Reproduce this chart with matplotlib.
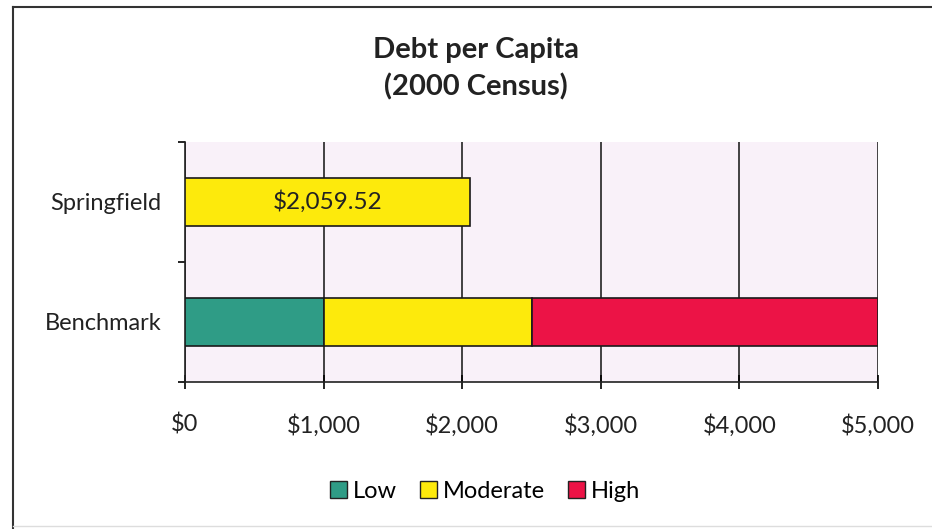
import matplotlib
matplotlib.use("Agg")
import matplotlib.pyplot as plt
from matplotlib.lines import Line2D
from matplotlib.patches import Patch

plt.rcParams['font.family'] = ['Lato', 'DejaVu Sans']

categories = ["Benchmark", "Springfield"]
springfield_value = 2059.52
benchmark_low = 1000
benchmark_moderate = 1500
benchmark_high = 2500
series_names = ["Low", "Moderate", "High"]
series_colors = ["#2f9c86", "#fdea0c", "#ec1346"]
x_ticks = [0, 1000, 2000, 3000, 4000, 5000]
x_tick_labels = ["$0", "$1,000", "$2,000", "$3,000", "$4,000", "$5,000"]

fig = plt.figure(figsize=(9.32, 5.29), dpi=100)
fig.patch.set_facecolor("white")
ax = fig.add_axes([185 / 932, 1 - 382 / 529, 693 / 932, 240 / 529])
ax.set_facecolor("#f9f1f9")

bar_h = 0.4
# Benchmark: stacked ranges
lefts = [0, benchmark_low, benchmark_low + benchmark_moderate]
widths = [benchmark_low, benchmark_moderate, benchmark_high]
for left, width, color in zip(lefts, widths, series_colors):
    ax.barh(0, width, left=left, height=bar_h, color=color,
            edgecolor="#1a1a1a", linewidth=1.2, zorder=3)

# Springfield single value
ax.barh(1, springfield_value, height=bar_h, color=series_colors[1],
        edgecolor="#1a1a1a", linewidth=1.2, zorder=3)
ax.text(springfield_value / 2, 1, f"${springfield_value:,.2f}",
        ha="center", va="center", fontsize=17.5, color="#222222", zorder=4)

ax.set_xlim(0, 5000)
ax.set_ylim(-0.5, 1.5)
ax.set_xticks(x_ticks)
ax.set_xticklabels(x_tick_labels, fontsize=17, color="#222222")
ax.tick_params(axis="x", direction="inout", length=10, width=1.2, pad=18)
ax.set_yticks([0, 1])
ax.set_yticklabels(categories, fontsize=17, color="#222222")
ax.tick_params(axis="y", length=0, pad=17)
ax.set_yticks([-0.5, 0.5, 1.5], minor=True)
ax.tick_params(axis="y", which="minor", length=5, width=1.2, direction="out")

ax.grid(axis="x", color="#111111", linewidth=1.1, zorder=1)
for side in ["top", "right"]:
    ax.spines[side].set_visible(False)
for side in ["left", "bottom"]:
    ax.spines[side].set_color("#222222")
    ax.spines[side].set_linewidth(1.2)

fig.text(476 / 932, 1 - 50 / 529, "Debt per Capita", ha="center", va="center",
         fontsize=21, fontweight="bold", color="#222222")
fig.text(476 / 932, 1 - 87 / 529, "(2000 Census)", ha="center", va="center",
         fontsize=21, fontweight="bold", color="#222222")

handles = [Patch(facecolor=c, edgecolor="#222222", linewidth=1.0) for c in series_colors]
fig.legend(handles, series_names, loc="center", bbox_to_anchor=(485 / 932, 1 - 491 / 529),
           ncol=3, frameon=False, fontsize=17, handlelength=0.7, handleheight=0.7,
           handletextpad=0.25, columnspacing=1.0)

# Chart frame lines
fig.add_artist(Line2D([13 / 932, 1.0], [1 - 7 / 529, 1 - 7 / 529], color="#333333", linewidth=1.5))
fig.add_artist(Line2D([13 / 932, 13 / 932], [1 - 7 / 529, 0], color="#333333", linewidth=1.5))
fig.add_artist(Line2D([13 / 932, 1.0], [1 - 526 / 529, 1 - 526 / 529], color="#dddddd", linewidth=1.0))

fig.savefig("out.png", dpi=100, facecolor="white")
